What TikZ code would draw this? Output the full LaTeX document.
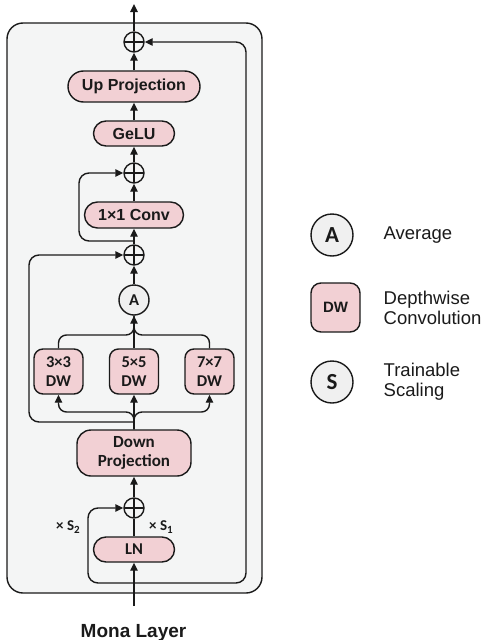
\documentclass[tikz,border=0pt]{standalone}
\usepackage{fontspec}
\setmainfont{Liberation Sans}
\newfontfamily\cali{Carlito}
\usetikzlibrary{arrows.meta}
\definecolor{boxpink}{HTML}{F2D0D4}
\definecolor{panel}{HTML}{F4F5F5}
\definecolor{circgray}{HTML}{F0F0F0}
\definecolor{ink}{HTML}{1A1A1A}
\newcommand{\subsc}[1]{\raisebox{-0.3ex}{\fontsize{11}{11}\selectfont #1}}
\tikzset{
  arr/.style={-{Triangle[length=8pt,width=7.5pt]}},
  pbox/.style={draw, fill=boxpink, inner sep=0pt, align=center},
  oplus/.style={circle, draw, minimum size=20pt, inner sep=0pt,
    path picture={\draw (path picture bounding box.north) -- (path picture bounding box.south)
      (path picture bounding box.west) -- (path picture bounding box.east);}},
  avgc/.style={circle, draw, fill=circgray, inner sep=0pt},
  fa/.style={font=\bfseries\fontsize{16}{19}\selectfont},
  fc/.style={font=\cali\bfseries\fontsize{16.5}{19}\selectfont},
  fs/.style={font=\cali\bfseries\fontsize{15}{18}\selectfont},
  legtext/.style={anchor=west, inner sep=0pt, align=left, font=\fontsize{18.5}{20}\selectfont},
}
\begin{document}
\begin{tikzpicture}[x=1pt, y=-1pt, line width=1.4pt, color=ink]
\useasboundingbox (0,0) rectangle (488,640);
% panel
\filldraw[fill=panel, rounded corners=16pt] (7,23) rectangle (262,593);
% nodes
\node[oplus] (p1) at (134,42) {};
\node[pbox, rounded corners=15.5pt, minimum width=132pt, minimum height=31pt, fa] (up) at (134,86.5) {Up Projection};
\node[pbox, rounded corners=12.5pt, minimum width=81pt, minimum height=25pt, fa] (gelu) at (134,133.5) {GeLU};
\node[oplus] (p2) at (134,173) {};
\node[pbox, rounded corners=13pt, minimum width=99pt, minimum height=26pt, fa] (conv) at (134,215) {1×1 Conv};
\node[oplus] (p3) at (134,255) {};
\node[avgc, minimum size=30pt, fc] (avg) at (134,300) {A};
\node[pbox, rounded corners=9pt, minimum width=49pt, minimum height=45pt, fc] (dw3) at (58.5,371.5) {3×3\\DW};
\node[pbox, rounded corners=9pt, minimum width=49pt, minimum height=45pt, fc] (dw5) at (134,371.5) {5×5\\DW};
\node[pbox, rounded corners=9pt, minimum width=49pt, minimum height=45pt, fc] (dw7) at (209.5,371.5) {7×7\\DW};
\node[pbox, rounded corners=14pt, minimum width=114pt, minimum height=46pt, font=\cali\bfseries\fontsize{17}{19.5}\selectfont] (down) at (134,453) {Down\\Projection};
\node[oplus] (p4) at (134,508) {};
\node[pbox, rounded corners=12.5pt, minimum width=81pt, minimum height=25pt, fc] (ln) at (134,549.5) {LN};
\node[fs] (s2) at (68,527) {× S\subsc{2}};
\node[fs] (s1) at (161,527) {× S\subsc{1}};
\node[anchor=base, inner sep=0pt, font=\bfseries\fontsize{19}{22}\selectfont] (title) at (133.5,637) {Mona Layer};
% coordinates
\coordinate (top) at (134,4);
\coordinate (inp) at (134,606);
\coordinate (b2) at (134,241);
\coordinate (bm) at (134,335);
\coordinate (bd) at (134,412);
\coordinate (bl) at (134,422);
\coordinate (bin) at (134,583);
% connectors
\draw[arr] (p1) -- (top);
\draw[arr] (up) -- (p1);
\draw[arr] (gelu) -- (up);
\draw[arr] (p2) -- (gelu);
\draw[arr] (conv) -- (p2);
\draw[arr] (p3) -- (conv);
\draw[arr, rounded corners=10pt] (b2) -| (79,173) -- (p2.west);
\draw[arr] (avg) -- (p3);
\draw[rounded corners=8pt] (dw3.north) |- (bm) -- (avg.south);
\draw[rounded corners=8pt] (dw7.north) |- (bm) -- (avg.south);
\draw[arr] (dw5) -- (avg);
\draw[arr] (down) -- (dw5);
\draw[arr, rounded corners=8pt] (down.north) -- (bd) -| (dw3.south);
\draw[arr, rounded corners=8pt] (down.north) -- (bd) -| (dw7.south);
\draw[arr, rounded corners=10pt] (bl) -| (29,255) -- (p3.west);
\draw[arr] (p4) -- (down);
\draw (ln) -- (p4);
\draw[arr] (inp) -- (ln);
\draw[arr, rounded corners=10pt] (bin) -| (88,508) -- (p4.west);
\draw[arr, rounded corners=10pt] (bin) -| (246,42) -- (p1.east);
% legend
\node[avgc, minimum size=42pt, font=\cali\bfseries\fontsize{23}{26}\selectfont] (la) at (332,235) {A};
\node[legtext] (lat) at (383,235) {Average};
\node[pbox, rounded corners=10pt, minimum width=49pt, minimum height=49pt, font=\bfseries\fontsize{15}{18}\selectfont] (ldw) at (335.5,307.5) {DW};
\node[legtext] (ldwt) at (383,307.5) {Depthwise\\Convolution};
\node[avgc, minimum size=42pt, font=\cali\bfseries\fontsize{23}{26}\selectfont] (ls) at (332,382) {S};
\node[legtext] (lst) at (383,382) {Trainable\\Scaling};
\end{tikzpicture}
\end{document}
